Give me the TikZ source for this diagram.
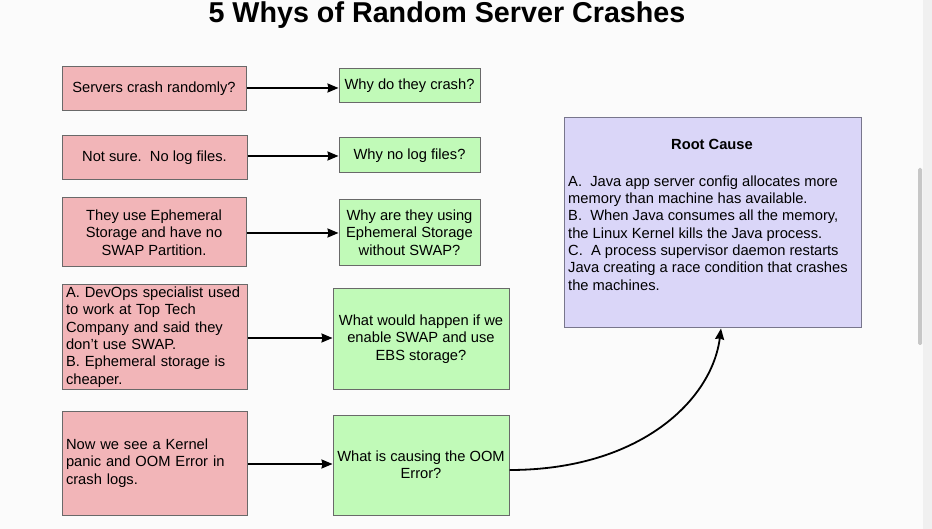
\documentclass[tikz,border=0pt]{standalone}
\usepackage{fontspec}
\setmainfont{Liberation Sans}
\usetikzlibrary{arrows.meta}
\definecolor{redfill}{RGB}{242,181,184}
\definecolor{greenfill}{RGB}{193,250,184}
\definecolor{purplefill}{RGB}{218,214,248}
\definecolor{boxline}{RGB}{105,105,105}
\definecolor{rootline}{RGB}{120,118,140}
\definecolor{bgcol}{RGB}{251,251,251}
\tikzset{
  basebox/.style={draw=boxline, line width=1pt, rectangle, inner sep=0pt,
    font=\fontsize{14.7}{17.3}\selectfont, align=center},
  redbox/.style={basebox, fill=redfill},
  greenbox/.style={basebox, fill=greenfill},
  rootbox/.style={basebox, draw=rootline, fill=purplefill},
  arr/.style={line width=1.8pt, -{Stealth[length=11pt,width=9pt,inset=1pt]}},
  bodytext/.style={inner sep=0pt, font=\fontsize{14.7}{17.3}\selectfont, align=left}
}
\begin{document}
\begin{tikzpicture}[x=1pt,y=-1pt]
\useasboundingbox (0,0) rectangle (932,529);
\fill[bgcol] (0,0) rectangle (932,529);
% window scrollbar
\fill[black!6] (923,0) rectangle (932,529);
\fill[black!22, rounded corners=1.5pt] (918,168) rectangle (922,345);

\node[font=\fontsize{28.7}{32}\selectfont\bfseries] (title) at (447,15) {5 Whys of Random Server Crashes};

\node[redbox, minimum width=184pt, minimum height=44pt] (r1) at (154,89) {Servers crash randomly?};
\node[redbox, minimum width=185pt, minimum height=44pt] (r2) at (154.5,158) {Not sure.\ \ No log files.};
\node[redbox, minimum width=184pt, minimum height=69pt] (r3) at (154,232.5) {They use Ephemeral\\Storage and have no\\SWAP Partition.};
\node[redbox, minimum width=185pt, minimum height=104pt, text width=177pt, align=left] (r4) at (154.5,337) {A. DevOps specialist used\\to work at Top Tech\\Company and said they\\don't use SWAP.\\B. Ephemeral storage is\\cheaper.};
\node[redbox, minimum width=185pt, minimum height=104pt, text width=177pt, align=left] (r5) at (154.5,463) {Now we see a Kernel\\panic and OOM Error in\\crash logs.};

\node[greenbox, minimum width=141pt, minimum height=34pt] (g1) at (409.5,86) {Why do they crash?};
\node[greenbox, minimum width=141pt, minimum height=35pt] (g2) at (409.5,155.5) {Why no log files?};
\node[greenbox, minimum width=141pt, minimum height=66pt] (g3) at (409.5,232.5) {Why are they using\\Ephemeral Storage\\without SWAP?};
\node[greenbox, minimum width=176pt, minimum height=100pt] (g4) at (421,339) {What would happen if we\\enable SWAP and use\\EBS storage?};
\node[greenbox, minimum width=176pt, minimum height=100pt] (g5) at (421,465) {What is causing the OOM\\Error?};

\node[rootbox, minimum width=297pt, minimum height=210pt] (root) at (712.5,223) {};
\node[bodytext, font=\fontsize{14.7}{17.3}\selectfont\bfseries] (roottitle) at (712,144) {Root Cause};
\node[bodytext, anchor=north west] (rootbody) at (568,175.5) {A.\ \ Java app server config allocates more\\memory than machine has available.\\B.\ \ When Java consumes all the memory,\\the Linux Kernel kills the Java process.\\C.\ \ A process supervisor daemon restarts\\Java creating a race condition that crashes\\the machines.};

\draw[arr] (r1.east |- 0,88) -- (g1.west |- 0,88);
\draw[arr] (r2.east |- 0,156) -- (g2.west |- 0,156);
\draw[arr] (r3.east |- 0,233) -- (g3.west |- 0,233);
\draw[arr] (r4.east |- 0,338) -- (g4.west |- 0,338);
\draw[arr] (r5.east |- 0,464) -- (g5.west |- 0,464);

\coordinate (cstart) at (g5.east |- 0,470);
\coordinate (cend) at (root.south -| 721,0);
\draw[arr] (cstart) .. controls (640,470) and (712,400) .. (cend);
\end{tikzpicture}
\end{document}
